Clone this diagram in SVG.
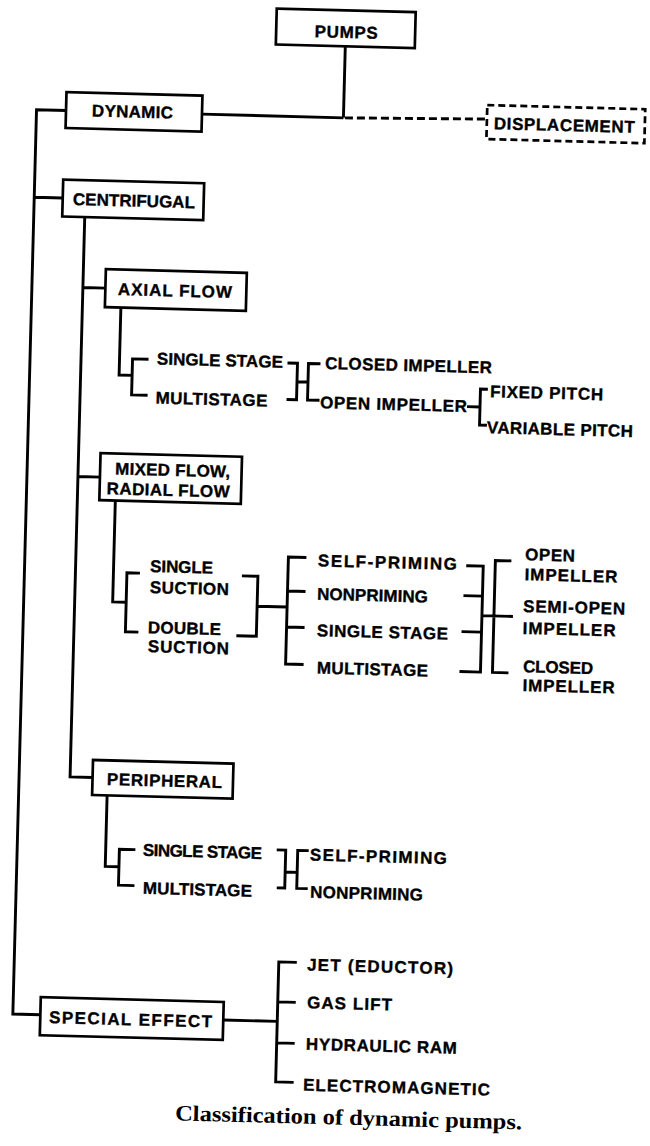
<svg xmlns="http://www.w3.org/2000/svg" width="650" height="1146" viewBox="0 0 650 1146">
<style>
.box{fill:#fff;stroke:#000;stroke-width:2.7}
.dbox{fill:#fff;stroke:#000;stroke-width:2.7;stroke-dasharray:7 4}
.ln{fill:none;stroke:#000;stroke-width:2.9;stroke-linejoin:miter;stroke-linecap:butt}
.dl{fill:none;stroke:#000;stroke-width:2.9;stroke-dasharray:8 4}
.t{font-family:"Liberation Sans",Arial,sans-serif;font-weight:bold;font-size:17px;fill:#000;stroke:#000;stroke-width:0.35}
.cap{font-family:"Liberation Serif","Times New Roman",serif;font-weight:bold;font-size:22px;fill:#000}
</style>
<rect width="650" height="1146" fill="#fff"/>
<g transform="rotate(1.5 325 573)">
<g id="connectors">
<path class="ln" d="M331.5 46 V117.5 M190 117.5 H331.5"/>
<path class="dl" d="M333 117.5 L475 115"/>
<path class="ln" d="M54 117.5 H24.5 V1022 H52 M24.5 205 H53"/>
<path class="ln" d="M75.5 223 V783.5 H98 M75.5 294 H98 M75.5 483 H97.5"/>
<path class="ln" d="M114 313 V380.5 H127 M143 364 H127 V400 H143"/>
<path class="ln" d="M282 364 H292 V400.5 H282 M292 382.5 H303 M315 364 H303 V400.5 H315"/>
<path class="ln" d="M462.6 403 H475.6 M483 385 H475.6 V421 H483"/>
<path class="ln" d="M113.5 506 V607.5 H127 M140 578 H127 V637 H140"/>
<path class="ln" d="M242 578 H258 V638 H238 M258 608 H288 M306 558 H288 V665 H306 M288 592 H306 M288 628 H306"/>
<path class="ln" d="M466 562 H483 V668 H462 M464 592 H483 M463 628 H483 M483 611.5 H514 M511 556 H495 V668 H511"/>
<path class="ln" d="M113 801 V872 H127 M142.7 854.5 H126.7 V890.5 H142.7"/>
<path class="ln" d="M284 851 H293 V889 H285 M293 873 H305 M316 851 H305 V889 H316"/>
<path class="ln" d="M235 1022.5 H289 M307 963 H289 V1083 H307 M289 1003 H307 M289 1044 H307"/>
</g>
<g id="pumps"><rect class="box" x="262" y="10" width="139" height="36"/><text class="t" x="300.6" y="37.6" textLength="63">PUMPS</text></g>
<g id="dynamic"><rect class="box" x="54" y="99" width="136" height="36"/><text class="t" x="80" y="122.7" textLength="81">DYNAMIC</text></g>
<g id="displacement"><rect class="dbox" x="475" y="101" width="158" height="34"/><text class="t" x="482" y="124.9" textLength="141">DISPLACEMENT</text></g>
<g id="centrifugal"><rect class="box" x="53" y="186.5" width="141" height="37"/><text class="t" x="63.3" y="211.7" textLength="122">CENTRIFUGAL</text></g>
<g id="axial-flow"><rect class="box" x="98" y="275" width="141" height="38"/><text class="t" x="110.6" y="300.5" textLength="114">AXIAL FLOW</text></g>
<g id="axial-single-stage"><text class="t" x="151.4" y="369" textLength="126">SINGLE STAGE</text></g>
<g id="axial-multistage"><text class="t" x="151" y="408" textLength="112">MULTISTAGE</text></g>
<g id="axial-closed-impeller"><text class="t" x="319.6" y="369" textLength="167">CLOSED IMPELLER</text></g>
<g id="axial-open-impeller"><text class="t" x="315.6" y="408.4" textLength="147">OPEN IMPELLER</text></g>
<g id="fixed-pitch"><text class="t" x="485.3" y="393" textLength="113">FIXED PITCH</text></g>
<g id="variable-pitch"><text class="t" x="483" y="429" textLength="146">VARIABLE PITCH</text></g>
<g id="mixed-flow"><rect class="box" x="97.5" y="459" width="141.5" height="47"/><text class="t" x="112.5" y="480" textLength="115">MIXED FLOW,</text><text class="t" x="104.5" y="500" textLength="123">RADIAL FLOW</text></g>
<g id="single-suction"><text class="t" x="150" y="576.5" textLength="63">SINGLE</text><text class="t" x="150.4" y="597.7" textLength="79">SUCTION</text></g>
<g id="double-suction"><text class="t" x="149.4" y="637.8" textLength="73">DOUBLE</text><text class="t" x="150" y="656.7" textLength="81">SUCTION</text></g>
<g id="mixed-self-priming"><text class="t" x="317.7" y="566.5" textLength="139">SELF-PRIMING</text></g>
<g id="mixed-nonpriming"><text class="t" x="317.6" y="599.9" textLength="111">NONPRIMING</text></g>
<g id="mixed-single-stage"><text class="t" x="318.5" y="636.4" textLength="131">SINGLE STAGE</text></g>
<g id="mixed-multistage"><text class="t" x="319.5" y="673.8" textLength="111">MULTISTAGE</text></g>
<g id="mixed-open-impeller"><text class="t" x="524.5" y="555" textLength="50">OPEN</text><text class="t" x="524.5" y="575" textLength="93">IMPELLER</text></g>
<g id="mixed-semi-open-impeller"><text class="t" x="524" y="606.7" textLength="102">SEMI-OPEN</text><text class="t" x="524" y="628.7" textLength="93">IMPELLER</text></g>
<g id="mixed-closed-impeller"><text class="t" x="525.5" y="667" textLength="70">CLOSED</text><text class="t" x="525.5" y="685.8" textLength="92">IMPELLER</text></g>
<g id="peripheral"><rect class="box" x="98" y="766" width="140.5" height="35"/><text class="t" x="112.5" y="790.7" textLength="115">PERIPHERAL</text></g>
<g id="peripheral-single-stage"><text class="t" x="150.3" y="860.5" textLength="119">SINGLE STAGE</text></g>
<g id="peripheral-multistage"><text class="t" x="151.3" y="898.5" textLength="109">MULTISTAGE</text></g>
<g id="peripheral-self-priming"><text class="t" x="317.4" y="860.8" textLength="137">SELF-PRIMING</text></g>
<g id="peripheral-nonpriming"><text class="t" x="318.4" y="898" textLength="113">NONPRIMING</text></g>
<g id="special-effect"><rect class="box" x="52" y="1004.5" width="183" height="38"/><text class="t" x="60.8" y="1030.2" textLength="163">SPECIAL EFFECT</text></g>
<g id="jet-eductor"><text class="t" x="317.3" y="970.8" textLength="146">JET (EDUCTOR)</text></g>
<g id="gas-lift"><text class="t" x="318.3" y="1008.6" textLength="85">GAS LIFT</text></g>
<g id="hydraulic-ram"><text class="t" x="318.3" y="1050.2" textLength="151">HYDRAULIC RAM</text></g>
<g id="electromagnetic"><text class="t" x="316.5" y="1091" textLength="187">ELECTROMAGNETIC</text></g>
<g id="caption"><text class="cap" x="189.3" y="1124" textLength="347" lengthAdjust="spacingAndGlyphs">Classification of dynamic pumps.</text></g>
</g>
</svg>
